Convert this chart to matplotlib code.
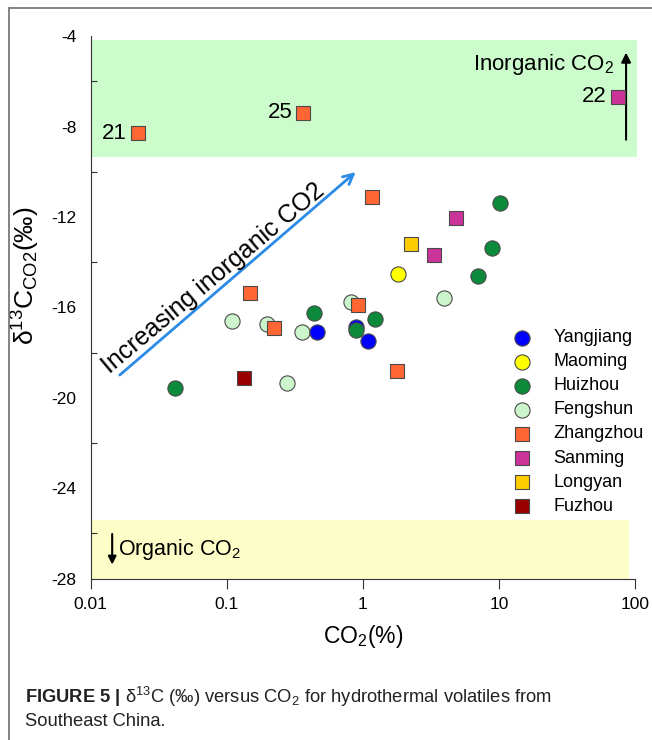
import matplotlib
matplotlib.use('Agg')
import matplotlib.pyplot as plt
from matplotlib.patches import Rectangle
from matplotlib.lines import Line2D
from matplotlib.ticker import FixedLocator, NullLocator

plt.rcParams['font.family'] = ['Liberation Sans', 'DejaVu Sans']
plt.rcParams['mathtext.fontset'] = 'custom'
plt.rcParams['mathtext.rm'] = 'Liberation Sans'
plt.rcParams['mathtext.it'] = 'Liberation Sans:italic'
plt.rcParams['mathtext.bf'] = 'Liberation Sans:bold'

# CO2 (%) and d13C (permil) for each area
yangjiang_co2 = [0.458, 0.887, 1.10]
yangjiang_d13c = [-17.10, -16.86, -17.49]

maoming_co2 = [1.80]
maoming_d13c = [-14.50]

huizhou_co2 = [0.0417, 0.438, 0.887, 1.23, 10.1, 8.94, 7.06]
huizhou_d13c = [-19.58, -16.26, -17.00, -16.49, -11.37, -13.39, -14.60]

fengshun_co2 = [0.109, 0.197, 0.356, 0.818, 3.95, 0.276]
fengshun_d13c = [-16.61, -16.71, -17.10, -15.78, -15.57, -19.36]

zhangzhou_co2 = [0.0223, 0.366, 1.175, 0.148, 0.918, 0.224, 1.775]
zhangzhou_d13c = [-8.30, -7.39, -11.11, -15.38, -15.90, -16.90, -18.80]

sanming_co2 = [74.6, 4.84, 3.35]
sanming_d13c = [-6.68, -12.06, -13.69]

longyan_co2 = [2.26]
longyan_d13c = [-13.17]

fuzhou_co2 = [0.134]
fuzhou_d13c = [-19.10]

# numbered samples
sample_ids = ['21', '25', '22']
sample_co2 = [0.0223, 0.366, 74.6]
sample_d13c = [-8.30, -7.39, -6.68]

xticks = [0.01, 0.1, 1, 10, 100]
xtick_labels = ['0.01', '0.1', '1', '10', '100']
yticks = [-4, -8, -12, -16, -20, -24, -28]

fig = plt.figure(figsize=(6.52, 7.40), dpi=100)
ax = fig.add_axes([0.139, 0.218, 0.835, 0.733])

# shaded fields
ax.add_patch(Rectangle((0.0101, -9.35), 103.5 - 0.0101, 5.17,
                       facecolor='#ccfccc', edgecolor='none', zorder=0, clip_on=False))
ax.add_patch(Rectangle((0.0101, -28), 90 - 0.0101, 2.6,
                       facecolor='#fdfdc8', edgecolor='none', zorder=0, clip_on=False))

edge = '#4a4a4a'
series = [
    ('Yangjiang', yangjiang_co2, yangjiang_d13c, 'o', '#0000ff', 4),
    ('Maoming', maoming_co2, maoming_d13c, 'o', '#ffff00', 4),
    ('Huizhou', huizhou_co2, huizhou_d13c, 'o', '#0a8a3a', 5),
    ('Fengshun', fengshun_co2, fengshun_d13c, 'o', '#ccf5cc', 3),
    ('Zhangzhou', zhangzhou_co2, zhangzhou_d13c, 's', '#ff6633', 6),
    ('Sanming', sanming_co2, sanming_d13c, 's', '#cc3399', 6),
    ('Longyan', longyan_co2, longyan_d13c, 's', '#ffcc00', 6),
    ('Fuzhou', fuzhou_co2, fuzhou_d13c, 's', '#990000', 6),
]
handles = []
for name, xs, ys, mk, col, z in series:
    size = 120 if mk == 'o' else 110
    h = ax.scatter(xs, ys, s=size, marker=mk, c=col, edgecolors=edge,
                   linewidths=0.8, zorder=z, label=name)
    handles.append(h)

for sid, x, y in zip(sample_ids, sample_co2, sample_d13c):
    ax.annotate(sid, (x, y), xytext=(-8, 0), textcoords='offset points',
                ha='right', va='center', fontsize=16)

# arrows and field labels
ax.annotate('', xy=(0.918, -9.93), xytext=(0.0158, -19.07),
            arrowprops=dict(arrowstyle='->', color='#2b8be6', lw=2,
                            mutation_scale=18))
ax.text(0.079, -14.7, 'Increasing inorganic CO2', rotation=40,
        ha='center', va='center', fontsize=18)

ax.annotate('', xy=(85.9, -4.6), xytext=(85.9, -8.7),
            arrowprops=dict(arrowstyle='-|>', color='black', lw=1.5,
                            mutation_scale=14))
ax.text(70, -5.25, 'Inorganic CO$_2$', ha='right', va='center', fontsize=16)

ax.annotate('', xy=(0.0144, -27.5), xytext=(0.0144, -25.9),
            arrowprops=dict(arrowstyle='-|>', color='black', lw=1.5,
                            mutation_scale=12))
ax.text(0.0158, -26.72, 'Organic CO$_2$', ha='left', va='center', fontsize=15.5)

# axes
ax.set_xscale('log')
ax.set_xlim(0.01, 100)
ax.set_ylim(-28, -4)
ax.xaxis.set_major_locator(FixedLocator(xticks))
ax.set_xticklabels(xtick_labels)
ax.xaxis.set_minor_locator(NullLocator())
ax.yaxis.set_major_locator(FixedLocator(yticks))
ax.yaxis.set_minor_locator(FixedLocator([-6, -10, -14, -18, -22, -26]))
ax.set_yticklabels([str(v) for v in yticks])
ax.tick_params(axis='x', which='major', direction='out', length=7, width=0.8,
               labelsize=12.5, pad=6, colors='#333333', labelcolor='black')
ax.tick_params(axis='y', which='major', length=0, labelsize=12.5, pad=10)
ax.tick_params(axis='y', which='minor', direction='in', length=4, width=0.8,
               colors='#333333')
for side in ['top', 'right']:
    ax.spines[side].set_visible(False)
for side in ['left', 'bottom']:
    ax.spines[side].set_color('#333333')
    ax.spines[side].set_linewidth(0.8)

ax.set_xlabel('CO$_2$(%)', fontsize=16.5, labelpad=8)
ax.set_ylabel('δ$^{13}$C$_{\\mathrm{CO2}}$(‰)', fontsize=19, va='center')
ax.yaxis.set_label_coords(-0.118, 0.558)

ax.legend(handles=handles, loc='upper left', bbox_to_anchor=(0.785, 0.555),
          bbox_transform=fig.transFigure, frameon=False, fontsize=13,
          scatterpoints=1, handlelength=1.1, handletextpad=1.2,
          labelspacing=0.39, borderpad=0, borderaxespad=0)

# frame lines and caption
fig.add_artist(Line2D([9 / 652, 9 / 652], [0, 1 - 8 / 740],
                      transform=fig.transFigure, color='#7a7a7a', lw=1.3))
fig.add_artist(Line2D([9 / 652, 1], [1 - 8 / 740, 1 - 8 / 740],
                      transform=fig.transFigure, color='#7a7a7a', lw=1.3))
fig.text(25 / 652, 1 - 697 / 740,
         '$\\mathbf{FIGURE\\ 5\\ |}$ δ$^{13}$C (‰) versus CO$_2$ for hydrothermal volatiles from',
         fontsize=13.2, va='center', ha='left', color='#222222')
fig.text(25 / 652, 1 - 721 / 740, 'Southeast China.', fontsize=13.2,
         va='center', ha='left', color='#222222')

fig.savefig('out.png', dpi=100)
